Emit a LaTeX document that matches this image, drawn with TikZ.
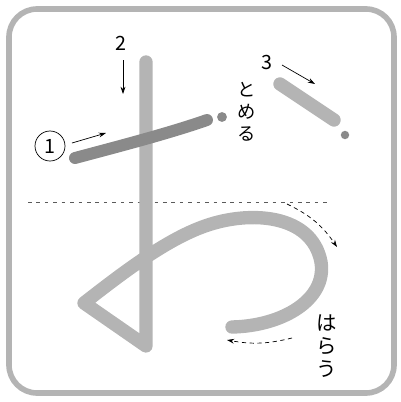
\documentclass[tikz,border=0pt]{standalone}
\usepackage{fontspec}
\usepackage{tikz}
\usetikzlibrary{arrows.meta}
\newfontfamily\jp{Noto Sans CJK JP}
\definecolor{grisc}{HTML}{B4B4B4}
\definecolor{griso}{HTML}{8A8A8A}
\definecolor{gris}{HTML}{5A5A5A}

\begin{document}
\begin{tikzpicture}[x=0.025cm, y=-0.025cm,
      marco/.style={draw=grisc, line width=4pt, rounded corners=0.7cm},
      trazo/.style={draw=grisc, line width=9.5pt, line cap=round, line join=round},
      trazoo/.style={trazo, draw=griso, line width=8.5pt},
      guia/.style={draw=gris, line width=0.6pt, dash pattern=on 2.5pt off 3.5pt},
      punto/.style={circle, fill=griso, inner sep=0pt, minimum size=7pt},
      num/.style={font=\jp\fontsize{14}{14}\selectfont, inner sep=0pt},
      etiqueta/.style={font=\jp\fontsize{13}{15.5}\selectfont, align=center, inner sep=0pt},
      flecha/.style={-{Stealth[length=1.8mm, width=1.2mm]}, draw=black, line width=0.5pt},
      flechad/.style={flecha, dash pattern=on 3pt off 2.5pt}]

    \useasboundingbox (0,0) rectangle (401,402);
    \draw[marco] (9,9) rectangle (394,393);

    \draw[guia] (28,202) -- (330,202);

    \draw[trazo] (146,62) -- (146,346) -- (84,303)
        .. controls (120,275) and (165,240) .. (205,226)
        .. controls (250,210) and (312,214) .. (321,262)
        .. controls (327,300) and (282,326) .. (232,327);
    \draw[trazoo] (75,158) .. controls (120,146) and (170,133) .. (207,120);
    \draw[trazo] (280,84) -- (334,120);

    \node[punto] (p1) at (222,117) {};
    \node[punto, minimum size=6pt] (p3) at (345,135) {};

    \node[circle, draw=black, line width=0.5pt, minimum size=30\pgflinewidth, inner sep=0pt,
          num, minimum size=0.75cm] (c1) at (50,146) {1};
    \node[num] (n2) at (121,43) {2};
    \node[num] (n3) at (267,62) {3};

    \node[etiqueta] (tomeru) at (247,112) {と\\め\\る};
    \node[etiqueta, font=\jp\fontsize{14.5}{16.5}\selectfont] (harau) at (327,346) {は\\ら\\う};

    \coordinate (f1i) at (72,143);
    \coordinate (f1f) at (106,133);
    \coordinate (f2i) at (123,60);
    \coordinate (f2f) at (123,94);
    \coordinate (f3i) at (282,65);
    \coordinate (f3f) at (315,84);
    \coordinate (f4i) at (287,204);
    \coordinate (f4f) at (337,247);
    \coordinate (f5i) at (292,338);
    \coordinate (f5f) at (227,340);

    \draw[flecha] (f1i) -- (f1f);
    \draw[flecha] (f2i) -- (f2f);
    \draw[flecha] (f3i) -- (f3f);
    \draw[flechad] (f4i) to[bend left=15] (f4f);
    \draw[flechad] (f5i) to[bend left=12] (f5f);
  \end{tikzpicture}
\end{document}
